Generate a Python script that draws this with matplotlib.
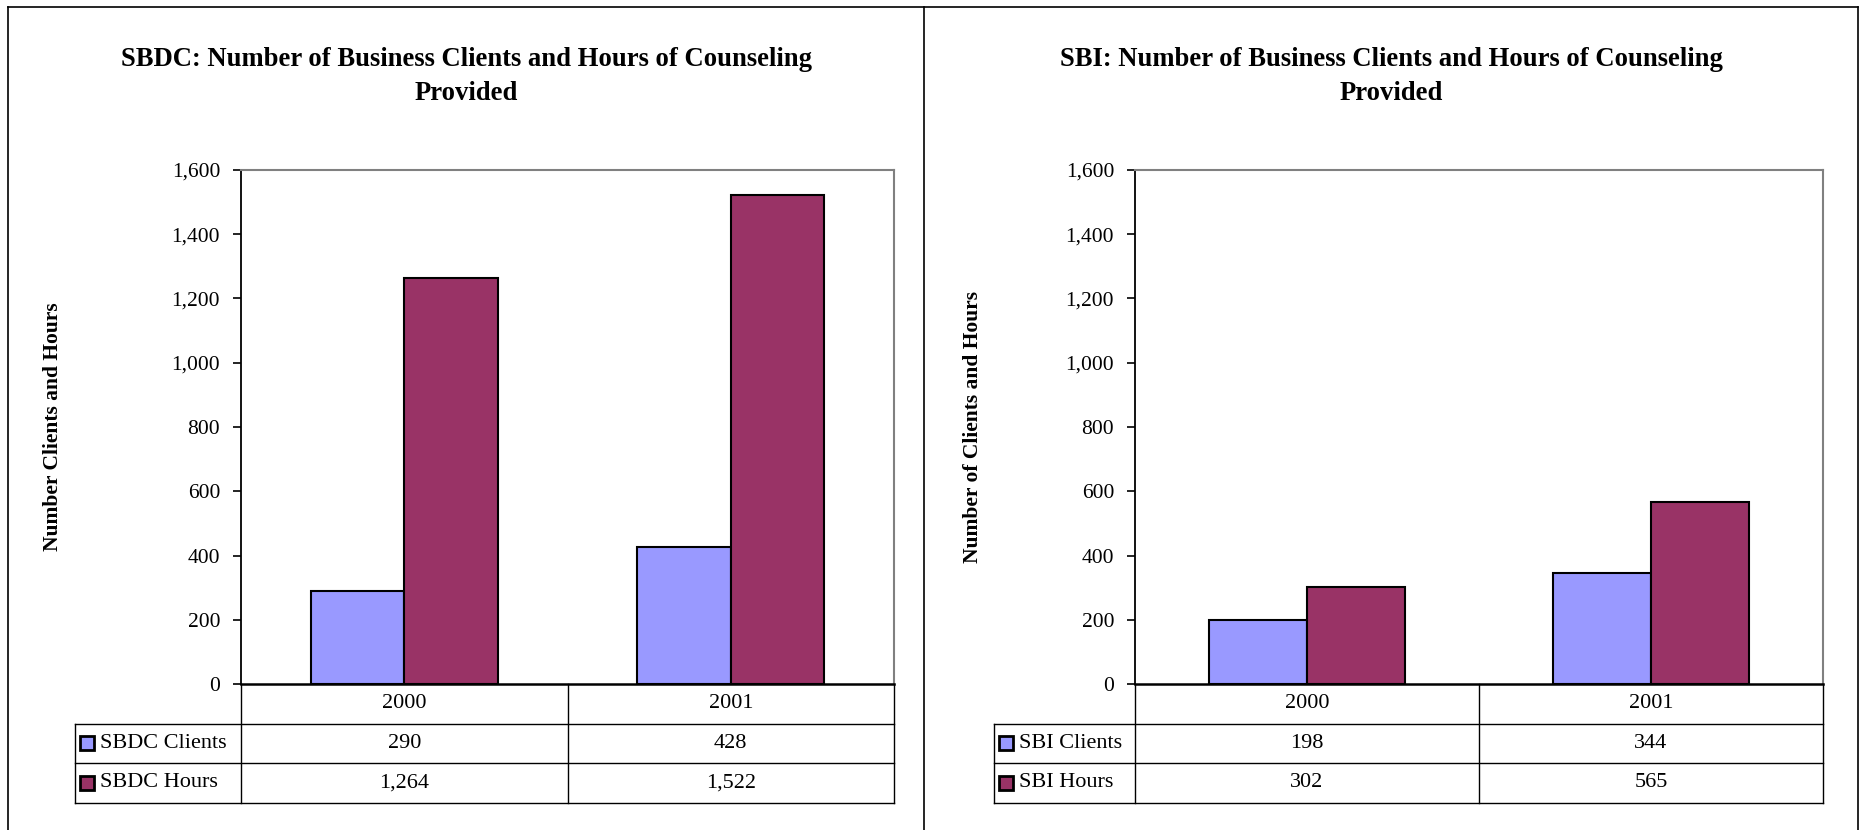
import numpy as np
import matplotlib
matplotlib.use("Agg")
import matplotlib.pyplot as plt
from matplotlib.lines import Line2D
from matplotlib.ticker import FuncFormatter

plt.rcParams['font.family'] = ['Liberation Serif', 'DejaVu Serif']

years = ['2000', '2001']
sbdc_clients = [290, 428]
sbdc_hours = [1264, 1522]
sbi_clients = [198, 344]
sbi_hours = [302, 565]

CLIENT_COLOR = '#9999FF'
HOURS_COLOR = '#993366'

W, H = 1860, 830
fig = plt.figure(figsize=(W / 100, H / 100), dpi=100)


def fx(x):
    return x / W


def fy(y):
    return 1 - y / H


# outer frame and the divider between the two charts
for xs, ys in [((8, 1858), (7, 7)), ((8, 8), (7, 830)),
               ((1858, 1858), (7, 830)), ((924, 924), (7, 830))]:
    fig.add_artist(Line2D([fx(v) for v in xs], [fy(v) for v in ys],
                          color='black', lw=1.2))


def panel(left, right, label_left, cx, ylabel_x, title, ylabel, names,
          clients, hours):
    top, bottom = 170, 684
    ax = fig.add_axes([fx(left), fy(bottom), fx(right - left),
                       (bottom - top) / H])
    x = np.arange(len(years))
    bw = 0.2857
    ax.bar(x - bw / 2, clients, bw, color=CLIENT_COLOR, edgecolor='black',
           lw=1.5, zorder=3)
    ax.bar(x + bw / 2, hours, bw, color=HOURS_COLOR, edgecolor='black',
           lw=1.5, zorder=3)
    ax.set_xlim(-0.5, len(years) - 0.5)
    ax.set_ylim(0, 1600)
    ax.set_yticks(np.arange(0, 1601, 200))
    ax.yaxis.set_major_formatter(FuncFormatter(lambda v, p: f'{v:,.0f}'))
    ax.set_xticks([])
    ax.tick_params(axis='y', direction='out', length=6, width=1.2,
                   pad=9, labelsize=15.5)
    for s in ['top', 'right']:
        ax.spines[s].set_color('#808080')
        ax.spines[s].set_linewidth(1.5)
    ax.spines['left'].set_linewidth(1.3)
    ax.spines['bottom'].set_linewidth(1.8)
    ax.spines['bottom'].set_zorder(5)

    # data table under the plot area
    ax_w = right - left
    ax_h = bottom - top
    row = 39.5 / ax_h
    lx = (label_left - left) / ax_w
    kw = dict(transform=ax.transAxes, clip_on=False, color='black', lw=1)
    ys = [0, -row, -2 * row, -3 * row]
    for y in ys[1:]:
        ax.add_line(Line2D([lx, 1], [y, y], **kw))
    for xv in [0, 0.5, 1]:
        ax.add_line(Line2D([xv, xv], [0, ys[-1]], **kw))
    ax.add_line(Line2D([lx, lx], [ys[1], ys[-1]], **kw))

    cols = (x + 0.5) / len(years)
    for c, yr in zip(cols, years):
        ax.text(c, -row / 2, yr, transform=ax.transAxes, ha='center',
                va='center', fontsize=16)
    for i, (name, vals, col) in enumerate(zip(names, [clients, hours],
                                             [CLIENT_COLOR, HOURS_COLOR])):
        yc = -row * (i + 1.5)
        ax.plot([lx + 12 / ax_w], [yc], marker='s', ms=10.5, mfc=col,
                mec='black', mew=2, transform=ax.transAxes,
                clip_on=False)
        ax.text(lx + 25 / ax_w, yc, name, transform=ax.transAxes,
                ha='left', va='center', fontsize=16)
        for c, v in zip(cols, vals):
            ax.text(c, yc, f'{v:,}', transform=ax.transAxes, ha='center',
                    va='center', fontsize=16)

    fig.text(fx(cx), fy(76.5), title, ha='center', va='center',
             fontsize=19.2, fontweight='bold', linespacing=1.47)
    fig.text(fx(ylabel_x), fy(427), ylabel, rotation=90, ha='center',
             va='center', fontsize=15.5, fontweight='bold')
    return ax


panel(241, 894, 75, 466, 53,
      'SBDC: Number of Business Clients and Hours of Counseling\nProvided',
      'Number Clients and Hours', ['SBDC Clients', 'SBDC Hours'],
      sbdc_clients, sbdc_hours)
panel(1135, 1823, 994, 1391, 973,
      'SBI: Number of Business Clients and Hours of Counseling\nProvided',
      'Number of Clients and Hours', ['SBI Clients', 'SBI Hours'],
      sbi_clients, sbi_hours)

fig.savefig('out.png', dpi=100)
